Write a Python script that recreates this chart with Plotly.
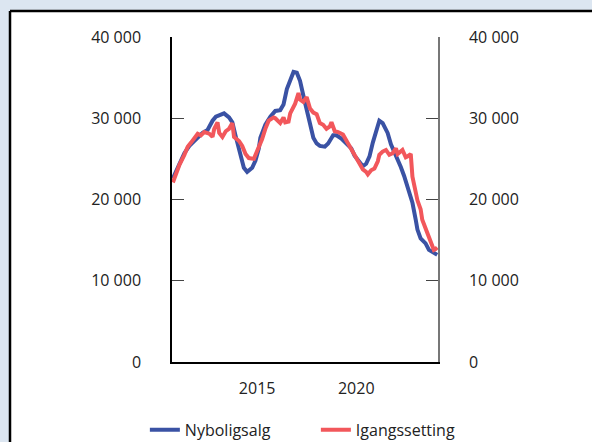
import plotly.graph_objects as go

# Nyboligsalg (12-month sums)
dates_nybolig = [
    "2010-10", "2011-01", "2011-05", "2011-08", "2012-01", "2012-04", "2012-07", "2012-10",
    "2012-12", "2013-03", "2013-05", "2013-08", "2013-10", "2013-12", "2014-01", "2014-03",
    "2014-05", "2014-07", "2014-10", "2014-12", "2015-02", "2015-03", "2015-06", "2015-09",
    "2015-12", "2016-03", "2016-05", "2016-07", "2016-09", "2016-11", "2017-01", "2017-03",
    "2017-05", "2017-07", "2017-09", "2017-11", "2018-01", "2018-03", "2018-06", "2018-08",
    "2018-11", "2019-01", "2019-04", "2019-07", "2019-10", "2019-12", "2020-02", "2020-05",
    "2020-07", "2020-09", "2020-11", "2021-01", "2021-03", "2021-05", "2021-08", "2021-10",
    "2022-01", "2022-04", "2022-06", "2022-08", "2022-11", "2023-01", "2023-02", "2023-04",
    "2023-07", "2023-09", "2023-12", "2024-02",
]
nyboligsalg = [
    22600, 24000, 25700, 26600, 27600, 28200, 28550, 29700,
    30200, 30500, 30600, 30100, 29500, 27800, 27000, 25000,
    23900, 23400, 23900, 24800, 26300, 27600, 29200, 30200,
    30900, 31000, 31700, 33600, 34800, 35700, 35600, 34600,
    32800, 31000, 28900, 27600, 26900, 26600, 26500, 26900,
    27900, 27900, 27500, 26900, 26300, 25400, 24800, 24100,
    24400, 25300, 27000, 28500, 29700, 29400, 28200, 26800,
    25500, 24000, 22900, 21500, 19600, 17500, 16300, 15200,
    14600, 13800, 13400, 13200,
]

# Igangssetting
dates_igang = [
    "2010-10", "2010-12", "2011-02", "2011-05", "2011-07", "2011-09", "2011-11", "2012-01",
    "2012-03", "2012-05", "2012-08", "2012-10", "2012-11", "2013-01", "2013-02", "2013-04",
    "2013-06", "2013-08", "2013-10", "2013-11", "2014-02", "2014-04", "2014-06", "2014-08",
    "2014-11", "2014-12", "2015-02", "2015-04", "2015-06", "2015-08", "2015-11", "2015-12",
    "2016-03", "2016-05", "2016-06", "2016-08", "2016-09", "2016-12", "2017-02", "2017-03",
    "2017-05", "2017-07", "2017-09", "2017-11", "2018-01", "2018-03", "2018-05", "2018-07",
    "2018-09", "2018-10", "2018-12", "2019-02", "2019-05", "2019-07", "2019-09", "2019-11",
    "2020-01", "2020-03", "2020-05", "2020-07", "2020-08", "2020-10", "2020-12", "2021-02",
    "2021-03", "2021-05", "2021-07", "2021-09", "2021-11", "2022-01", "2022-02", "2022-05",
    "2022-07", "2022-08", "2022-10", "2022-11", "2023-01", "2023-02", "2023-04", "2023-05",
    "2023-08", "2023-10", "2023-12", "2024-01", "2024-02",
]
igangssetting = [
    22100, 23200, 24300, 25500, 26500, 27000, 27600, 28100,
    27900, 28300, 28100, 27700, 28700, 29500, 28200, 27700,
    28400, 28700, 29400, 27700, 27200, 26600, 25600, 25100,
    25000, 25500, 26300, 27400, 28700, 29700, 30100, 30000,
    29400, 30100, 29500, 29600, 30600, 31800, 33100, 32300,
    32000, 32600, 31200, 30700, 30500, 29400, 29200, 28700,
    29000, 29500, 28400, 28300, 28000, 27300, 26600, 25800,
    25200, 24300, 23700, 23400, 23100, 23600, 23800, 24700,
    25500, 25900, 26100, 25500, 25700, 26300, 25600, 26100,
    25200, 25300, 25600, 22800, 21000, 19900, 18800, 17500,
    15900, 14900, 13800, 13900, 14100,
]

y_ticks = [0, 10000, 20000, 30000, 40000]
y_labels = ["0", "10 000", "20 000", "30 000", "40 000"]

fig = go.Figure()
fig.add_trace(go.Scatter(x=dates_nybolig, y=nyboligsalg, name="Nyboligsalg", mode="lines",
                         line=dict(color="#3a52a4", width=4)))
fig.add_trace(go.Scatter(x=dates_igang, y=igangssetting, name="Igangssetting", mode="lines",
                         line=dict(color="#f2575b", width=4), yaxis="y2"))

axis_y = dict(range=[0, 40000], tickvals=y_ticks, ticktext=y_labels, showgrid=False,
              zeroline=False, ticks="inside", ticklen=12, tickcolor="#444",
              ticklabelstandoff=26, showline=True, linewidth=1.5, automargin=False)

# light blue band along the top and left edge, black frame line inside it
band = "#dce6f1"
frame = [
    dict(type="rect", x0=-0.7, x1=1.6, y0=1.08, y1=1.2, fillcolor=band, line_width=0),
    dict(type="rect", x0=-0.7, x1=-0.609, y0=-0.3, y1=1.2, fillcolor=band, line_width=0),
    dict(type="line", x0=-0.609, x1=1.6, y0=1.08, y1=1.08, line=dict(color="black", width=2.5)),
    dict(type="line", x0=-0.609, x1=-0.609, y0=-0.3, y1=1.08, line=dict(color="black", width=2.5)),
]
for s in frame:
    s.update(xref="paper", yref="paper", layer="below")

fig.update_layout(
    width=592, height=442,
    margin=dict(l=172, r=154, t=37, b=80, autoexpand=False),
    paper_bgcolor="white",
    plot_bgcolor="rgba(0,0,0,0)",
    font=dict(family="Open Sans", size=16, color="#222"),
    xaxis=dict(type="date", range=["2010-09-15", "2024-02-15"], tickvals=["2015-01-01", "2020-01-01"],
               ticktext=["2015", "2020"], showgrid=False, zeroline=False, ticks="",
               showline=True, linecolor="black", linewidth=1.5, ticklabelstandoff=11,
               automargin=False),
    yaxis=dict(axis_y, side="left", linecolor="black"),
    yaxis2=dict(axis_y, side="right", overlaying="y", linecolor="#777"),
    showlegend=True,
    legend=dict(orientation="h", x=-0.102, xanchor="left", y=-0.209, yanchor="middle",
                entrywidth=126, bgcolor="rgba(0,0,0,0)", font=dict(size=16)),
    shapes=frame,
)

# drop the default body margin and scrollbars so the figure fills the window exactly
page_fix = ("document.body.style.margin='0';"
            "document.body.style.overflow='hidden';"
            "document.documentElement.style.overflow='hidden';")
fig.write_html("out.html", config={"displayModeBar": False}, post_script=page_fix)
